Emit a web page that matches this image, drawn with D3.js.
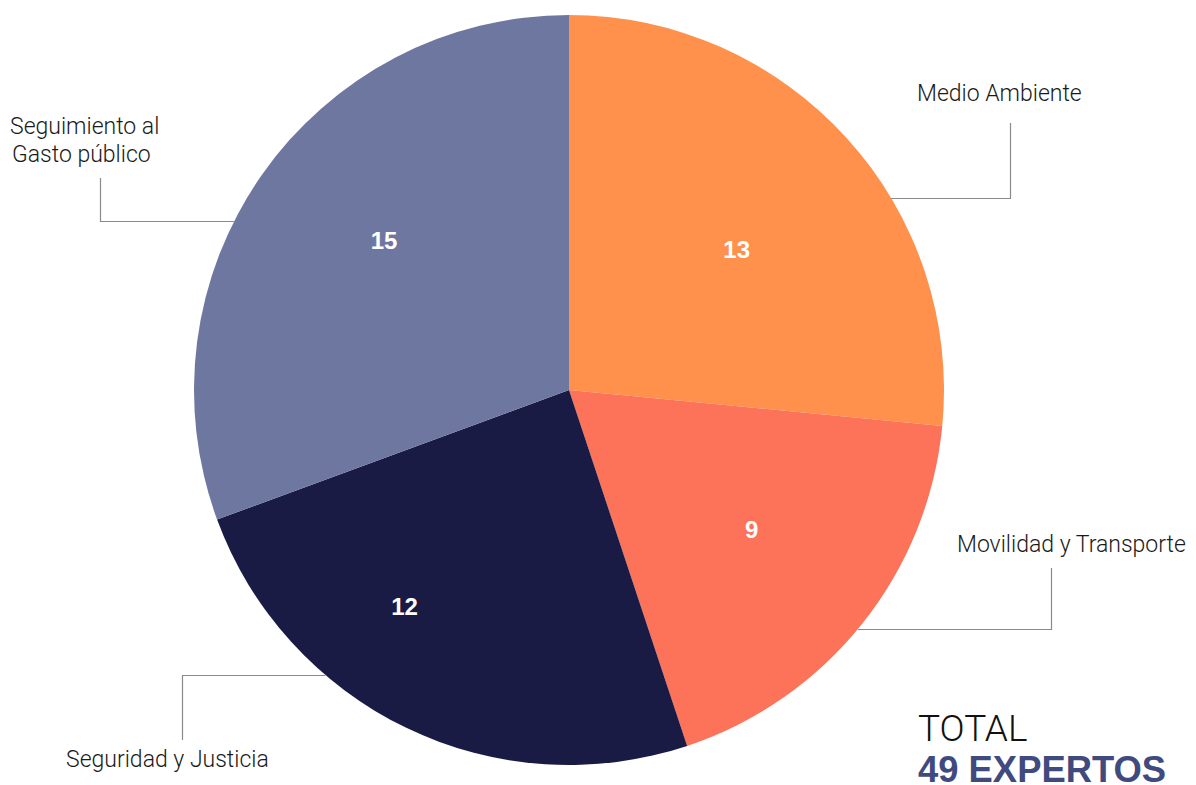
<!DOCTYPE html>
<html><head><meta charset="utf-8">
<script src="https://cdn.jsdelivr.net/npm/d3@7"></script>
<style>
html,body{margin:0;padding:0;background:#fff;}
svg{display:block;}
</style></head>
<body>
<svg id="chart" width="1196" height="785"></svg>
<script>
const categories = ["Medio Ambiente", "Movilidad y Transporte", "Seguridad y Justicia", "Seguimiento al Gasto público"];
const values = [13, 9, 12, 15];
const colors = ["#FF914D", "#FC7359", "#1A1B45", "#6E77A0"];
const labelLines = [["Medio Ambiente"], ["Movilidad y Transporte"], ["Seguridad y Justicia"], ["Seguimiento al", "Gasto público"]];
const totalTitle = "TOTAL";
const totalText = d3.sum(values) + " EXPERTOS";

const W = 1196, H = 785;
const cx = 569, cy = 390, R = 375;
// value-label placement (layout only): angle offset from slice middle (deg), radius
const valueLabelLayout = [{da: 2.2, r: 219}, {da: -1.2, r: 230}, {da: 11.5, r: 272}, {da: 4.1, r: 238}];

const svg = d3.select("#chart");
const g = svg.append("g").attr("transform", `translate(${cx},${cy})`);

const data = categories.map((c, i) => ({cat: c, value: values[i], color: colors[i], lines: labelLines[i]}));
const pie = d3.pie().value(d => d.value).sort(null);
const arcs = pie(data);
const arc = d3.arc().innerRadius(0).outerRadius(R);

g.selectAll("path.slice").data(arcs).enter().append("path")
  .attr("class", "slice")
  .attr("d", arc)
  .attr("fill", d => d.data.color);

g.selectAll("text.val").data(arcs).enter().append("text")
  .attr("class", "val")
  .attr("transform", (d, i) => {
    const L = valueLabelLayout[i];
    const a = (d.startAngle + d.endAngle) / 2 + L.da * Math.PI / 180;
    return `translate(${L.r * Math.sin(a)},${-L.r * Math.cos(a)})`;
  })
  .attr("text-anchor", "middle")
  .attr("dy", "0.36em")
  .attr("fill", "#fff")
  .attr("font-family", "'Liberation Sans', Arial, sans-serif")
  .attr("font-weight", "bold")
  .attr("font-size", 24)
  .text(d => d.data.value);

// leader layout: horizontal line at dy (relative to center), elbow x, vertical end y, text pos
const leaders = [
  {dy: -192, side: 1, elbowX: 1010, endY: 123, tx: 917, ty: 101},
  {dy: 239, side: 1, elbowX: 1051, endY: 568, tx: 957, ty: 552},
  {dy: 285, side: -1, elbowX: 182, endY: 740, tx: 66, ty: 767},
  {dy: -169, side: -1, elbowX: 100, endY: 178, tx: 10, ty: 134}
];

const lg = svg.append("g");
leaders.forEach((l, i) => {
  const x0 = cx + l.side * Math.sqrt(R * R - l.dy * l.dy);
  const y0 = cy + l.dy;
  lg.append("path")
    .attr("d", `M${x0},${y0 + 0.5}H${l.elbowX + 0.5}V${l.endY}`)
    .attr("fill", "none")
    .attr("stroke", "#8a8a8a")
    .attr("stroke-width", 1.2);
  const t = lg.append("text")
    .attr("x", l.tx).attr("y", l.ty)
    .attr("font-family", "Roboto, 'Liberation Sans', sans-serif")
    .attr("font-weight", 300)
    .attr("font-size", 23)
    .attr("fill", "#1a1a1a");
  data[i].lines.forEach((s, j) => {
    t.append("tspan").attr("x", l.tx + (j === 0 ? 0 : 2)).attr("dy", j === 0 ? 0 : 28).text(s);
  });
});

svg.append("text")
  .attr("x", 918).attr("y", 741)
  .attr("font-family", "Roboto, 'Liberation Sans', sans-serif")
  .attr("font-weight", 300)
  .attr("font-size", 37)
  .attr("fill", "#111")
  .text(totalTitle);
svg.append("text")
  .attr("x", 918).attr("y", 782)
  .attr("font-family", "'Liberation Sans', Arial, sans-serif")
  .attr("font-weight", "bold")
  .attr("font-size", 36.4)
  .attr("fill", "#404A7E")
  .text(totalText);
</script>
</body></html>
